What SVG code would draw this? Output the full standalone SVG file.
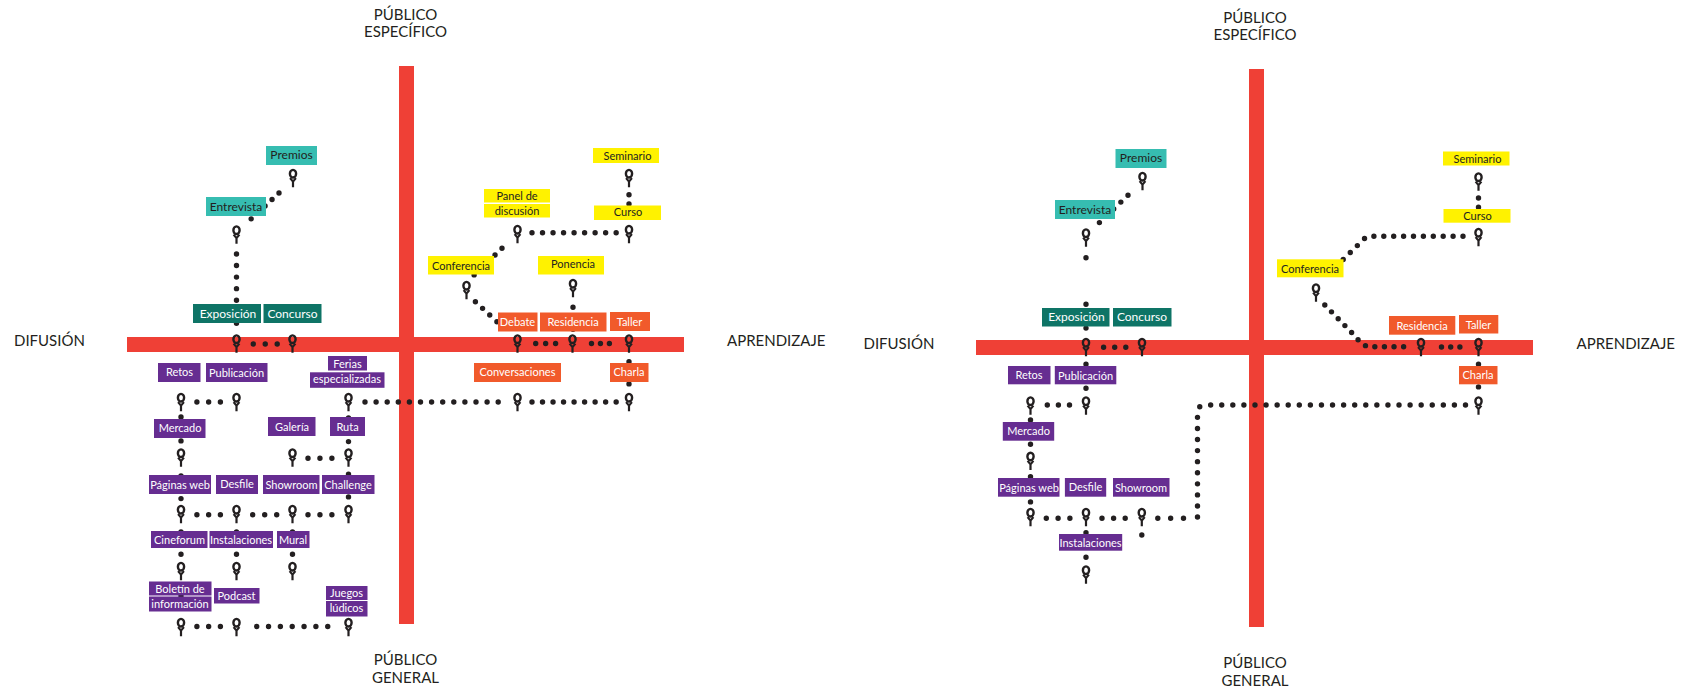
<svg xmlns="http://www.w3.org/2000/svg" xmlns:xlink="http://www.w3.org/1999/xlink" width="1682" height="686" viewBox="0 0 1682 686">
  <style>
    .bar { fill: #EF4036; }
    .axis { font-family: Lato, "Liberation Sans", sans-serif; font-size: 15px; fill: #231F20; }
    .mid { text-anchor: middle; }
    .node text { font-family: Lato, "Liberation Sans", sans-serif; font-size: 11px; text-anchor: middle; }
    .node.big text { font-size: 12px; }
    .pur rect { fill: #662D91; } .pur text { fill: #FFFFFF; }
    .dkt rect { fill: #0E7466; } .dkt text { fill: #FFFFFF; }
    .ltt rect { fill: #36BDB1; } .ltt text { fill: #231F20; }
    .yel rect { fill: #FFF200; } .yel text { fill: #231F20; }
    .org rect { fill: #F15A2B; } .org text { fill: #FFFFFF; }
    .dots path { fill: none; stroke: #231F20; stroke-width: 5.4; stroke-linecap: round; }
  </style>
  <defs>
    <!-- station pin: ring on top, forked stem below; origin = pin centre -->
    <g id="pin" fill="none" stroke="#231F20">
      <ellipse cx="0" cy="-4.3" rx="3.1" ry="3.8" stroke-width="2.4"/>
      <path d="M-2.9,0.1 L0,3.6 L2.9,0.1 M0,3.6 V9.3" stroke-width="2.2"/>
    </g>
  </defs>

  <!-- ===================== Map A ===================== -->
  <g id="map-a">
    <g id="a-axes">
      <rect class="bar" x="399" y="66" width="15" height="558"/>
      <rect class="bar" x="127" y="337" width="557" height="15"/>
      <text class="axis mid" x="405.5" y="19.5">PÚBLICO</text>
      <text class="axis mid" x="405.5" y="37">ESPECÍFICO</text>
      <text class="axis mid" x="405.5" y="665">PÚBLICO</text>
      <text class="axis mid" x="405.5" y="683">GENERAL</text>
      <text class="axis" x="14" y="345.5">DIFUSIÓN</text>
      <text class="axis" x="727" y="346">APRENDIZAJE</text>
    </g>

    <g id="a-connectors" class="dots">
      <path d="M279,193 L251,219" stroke-dasharray="0 9.5"/>
      <path d="M236.5,254 V323.6" stroke-dasharray="0 11.55"/>
      <path d="M253.3,344 H277.3" stroke-dasharray="0 11.95"/>
      <path d="M629,194.7 V213.3" stroke-dasharray="0 9.25"/>
      <path d="M532,232.7 H616.5" stroke-dasharray="0 10.52"/>
      <path d="M502,248.3 L474,275" stroke-dasharray="0 9.63"/>
      <path d="M475.4,301.7 L504.2,328.5" stroke-dasharray="0 9.79"/>
      <path d="M573,307.3 V329.3" stroke-dasharray="0 10.95"/>
      <path d="M535.7,343.5 H555.7" stroke-dasharray="0 9.95"/>
      <path d="M591.5,343.5 H609.5" stroke-dasharray="0 8.95"/>
      <path d="M629,361.7 V384" stroke-dasharray="0 11.1"/>
      <path d="M365,402 H498.7" stroke-dasharray="0 11.1"/>
      <path d="M532,402 H616.5" stroke-dasharray="0 10.52"/>
      <path d="M196.9,402 H220.5" stroke-dasharray="0 11.75"/>
      <path d="M181,417 V441" stroke-dasharray="0 11.95"/>
      <path d="M181,476 V498.7" stroke-dasharray="0 11.3"/>
      <path d="M308,458.3 H332" stroke-dasharray="0 11.95"/>
      <path d="M348.5,418 V441.7" stroke-dasharray="0 11.8"/>
      <path d="M348.5,474.3 V497" stroke-dasharray="0 11.3"/>
      <path d="M196.9,514.7 H220.5" stroke-dasharray="0 11.75"/>
      <path d="M252.7,514.7 H276.8" stroke-dasharray="0 12"/>
      <path d="M308,514.7 H332" stroke-dasharray="0 11.95"/>
      <path d="M181,532 V554.3" stroke-dasharray="0 11.1"/>
      <path d="M236.5,532 V554.3" stroke-dasharray="0 11.1"/>
      <path d="M292.5,532 V554.3" stroke-dasharray="0 11.1"/>
      <path d="M181,585 V607" stroke-dasharray="0 10.95"/>
      <path d="M196.9,626.5 H220.5" stroke-dasharray="0 11.75"/>
      <path d="M256.7,626.5 H328" stroke-dasharray="0 11.84"/>
    </g>

    <g id="a-nodes">
      <g id="a-premios" class="node big ltt"><rect x="266" y="146" width="51" height="19"/><text x="291.5" y="159">Premios</text><use xlink:href="#pin" x="293" y="178"/></g>
      <g id="a-entrevista" class="node big ltt"><rect x="206" y="197" width="60" height="19"/><text x="236" y="210.5">Entrevista</text><use xlink:href="#pin" x="236.5" y="234.5"/></g>
      <g id="a-exposicion" class="node big dkt"><rect x="193" y="304" width="68" height="19"/><text x="228" y="317.5">Exposición</text><use xlink:href="#pin" x="236.5" y="343.5"/></g>
      <g id="a-concurso" class="node big dkt"><rect x="263.5" y="304" width="58" height="19"/><text x="292.5" y="317.5">Concurso</text><use xlink:href="#pin" x="292.5" y="343.5"/></g>

      <g id="a-seminario" class="node yel"><rect x="593" y="148" width="66" height="15"/><text x="627.5" y="159.5">Seminario</text><use xlink:href="#pin" x="629" y="178"/></g>
      <g id="a-curso" class="node yel"><rect x="594" y="205.5" width="67" height="14.5"/><text x="628" y="216">Curso</text><use xlink:href="#pin" x="629" y="234"/></g>
      <g id="a-panel" class="node yel"><rect x="484" y="189" width="66" height="13.5"/><rect x="484" y="204" width="66" height="13.5"/><text x="517" y="200">Panel de</text><text x="517" y="214.5">discusión</text><use xlink:href="#pin" x="517.5" y="234"/></g>
      <g id="a-conferencia" class="node yel"><rect x="428" y="256" width="66" height="18.5"/><text x="461" y="269.5">Conferencia</text><use xlink:href="#pin" x="466.5" y="290"/></g>
      <g id="a-ponencia" class="node yel"><rect x="538" y="256" width="66" height="18.5"/><text x="573" y="268">Ponencia</text><use xlink:href="#pin" x="573" y="288"/></g>

      <g id="a-debate" class="node org"><rect x="498" y="312.5" width="39.5" height="19"/><text x="517.5" y="326">Debate</text><use xlink:href="#pin" x="517.5" y="343.5"/></g>
      <g id="a-residencia" class="node org"><rect x="540" y="312.5" width="66.5" height="19"/><text x="573" y="326">Residencia</text><use xlink:href="#pin" x="572.5" y="343.5"/></g>
      <g id="a-taller" class="node org"><rect x="610" y="312" width="40" height="19"/><text x="629.5" y="326">Taller</text><use xlink:href="#pin" x="629" y="343.5"/></g>
      <g id="a-charla" class="node org"><rect x="610" y="363" width="38.5" height="19"/><text x="629" y="376">Charla</text><use xlink:href="#pin" x="629" y="402"/></g>
      <g id="a-conversaciones" class="node org"><rect x="474" y="363" width="87" height="19"/><text x="517.5" y="376">Conversaciones</text><use xlink:href="#pin" x="517.5" y="402"/></g>

      <g id="a-ferias" class="node pur"><rect x="328" y="356" width="39" height="14.5"/><rect x="310" y="372.3" width="74.5" height="15.5"/><text x="347.5" y="368">Ferias</text><text x="347" y="383">especializadas</text><use xlink:href="#pin" x="348.5" y="402"/></g>
      <g id="a-retos" class="node pur"><rect x="158" y="363" width="42.5" height="19"/><text x="179.5" y="376">Retos</text><use xlink:href="#pin" x="181" y="402"/></g>
      <g id="a-publicacion" class="node pur"><rect x="206" y="363" width="61.5" height="19"/><text x="236.5" y="376.5">Publicación</text><use xlink:href="#pin" x="236.5" y="402"/></g>
      <g id="a-mercado" class="node pur"><rect x="154" y="419" width="51.5" height="19"/><text x="180" y="432">Mercado</text><use xlink:href="#pin" x="181" y="457.5"/></g>
      <g id="a-galeria" class="node pur"><rect x="268" y="417" width="47.5" height="19"/><text x="292" y="430.5">Galería</text><use xlink:href="#pin" x="292.5" y="457.5"/></g>
      <g id="a-ruta" class="node pur"><rect x="330" y="417" width="35" height="19"/><text x="347.5" y="430.5">Ruta</text><use xlink:href="#pin" x="348.5" y="457.5"/></g>
      <g id="a-paginas" class="node pur"><rect x="149" y="475" width="62" height="19"/><text x="180" y="488.5">Páginas web</text><use xlink:href="#pin" x="181" y="514"/></g>
      <g id="a-desfile" class="node pur"><rect x="216" y="475" width="42" height="19"/><text x="237" y="488">Desfile</text><use xlink:href="#pin" x="236.5" y="514"/></g>
      <g id="a-showroom" class="node pur"><rect x="263" y="475" width="56.5" height="19"/><text x="291.5" y="488.5">Showroom</text><use xlink:href="#pin" x="292.5" y="514"/></g>
      <g id="a-challenge" class="node pur"><rect x="322" y="475" width="52.5" height="19"/><text x="348" y="488.5">Challenge</text><use xlink:href="#pin" x="348.5" y="514"/></g>
      <g id="a-cineforum" class="node pur"><rect x="151" y="531" width="56.5" height="17"/><text x="179.5" y="543.5">Cineforum</text><use xlink:href="#pin" x="181" y="571"/></g>
      <g id="a-instalaciones" class="node pur"><rect x="209.5" y="531" width="63.5" height="17"/><text x="241" y="544">Instalaciones</text><use xlink:href="#pin" x="236.5" y="571"/></g>
      <g id="a-mural" class="node pur"><rect x="277" y="531" width="32.5" height="17"/><text x="293" y="544">Mural</text><use xlink:href="#pin" x="292.5" y="571"/></g>
      <g id="a-boletin" class="node pur"><rect x="149" y="581.5" width="62.5" height="14"/><rect x="149" y="596.5" width="62.5" height="15"/><text x="180" y="593">Boletín de</text><text x="180" y="607.5">información</text><use xlink:href="#pin" x="181" y="627"/></g>
      <g id="a-podcast" class="node pur"><rect x="214" y="588" width="45.5" height="15.5"/><text x="236.5" y="599.5">Podcast</text><use xlink:href="#pin" x="236.5" y="627"/></g>
      <g id="a-juegos" class="node pur"><rect x="326" y="586" width="41.5" height="14"/><rect x="326" y="601" width="41.5" height="15.5"/><text x="346.5" y="597">Juegos</text><text x="346.5" y="612">lúdicos</text><use xlink:href="#pin" x="348.5" y="627"/></g>
    </g>
  </g>

  <!-- ===================== Map B (same frame, shifted) ===================== -->
  <g id="map-b" transform="translate(849.5,3)">
    <g id="b-axes">
      <rect class="bar" x="399.5" y="66" width="15" height="558"/>
      <rect class="bar" x="126.5" y="337" width="557" height="15"/>
      <text class="axis mid" x="405.5" y="19.5">PÚBLICO</text>
      <text class="axis mid" x="405.5" y="37">ESPECÍFICO</text>
      <text class="axis mid" x="405.5" y="665">PÚBLICO</text>
      <text class="axis mid" x="405.5" y="682.5">GENERAL</text>
      <text class="axis" x="14" y="345.5">DIFUSIÓN</text>
      <text class="axis" x="727" y="345.5">APRENDIZAJE</text>
    </g>

    <g id="b-connectors" class="dots">
      <path d="M278.5,192.3 L249.8,219.7" stroke-dasharray="0 9.88"/>
      <path d="M236.5,254.7 V325.3" stroke-dasharray="0 46.5 0 23.9 0 100"/>
      <path d="M254.1,344.3 H276.4" stroke-dasharray="0 11.1"/>
      <path d="M629,195 V213.5" stroke-dasharray="0 9.2"/>
      <path d="M613.5,233.3 H522 Q516,233.3 511.5,239 L473.5,276.3" stroke-dasharray="0 9.9"/>
      <path d="M475.3,302 L506,333.5 Q511,340.5 518,343.7 H555" stroke-dasharray="0 9.6"/>
      <path d="M592,344 H610.5" stroke-dasharray="0 9.2"/>
      <path d="M629,361.3 V384" stroke-dasharray="0 11.3"/>
      <path d="M616,402 H356 Q348,402 348,410 V515.3" stroke-dasharray="0 11.08"/>
      <path d="M334,515.3 H308.2" stroke-dasharray="0 12.85"/>
      <path d="M236.5,361.3 V385.3" stroke-dasharray="0 11.95"/>
      <path d="M197.8,402 H220.1" stroke-dasharray="0 11.1"/>
      <path d="M181,417 V441.3" stroke-dasharray="0 12.1"/>
      <path d="M181,473.7 V499" stroke-dasharray="0 12.6"/>
      <path d="M196.8,515.3 H220.5" stroke-dasharray="0 11.8"/>
      <path d="M252.5,515.3 H275.8" stroke-dasharray="0 11.6"/>
      <path d="M292.3,532 h0.01"/>
      <path d="M236.5,529.7 V554.3" stroke-dasharray="0 12.25"/>
    </g>

    <g id="b-nodes">
      <g id="b-premios" class="node big ltt"><rect x="266" y="146" width="51" height="19"/><text x="291.5" y="159">Premios</text><use xlink:href="#pin" x="293" y="178"/></g>
      <g id="b-entrevista" class="node big ltt"><rect x="205.5" y="197" width="60" height="19"/><text x="235.5" y="210.5">Entrevista</text><use xlink:href="#pin" x="236.5" y="234.5"/></g>
      <g id="b-exposicion" class="node big dkt"><rect x="192.5" y="305" width="67.5" height="18.5"/><text x="227" y="318">Exposición</text><use xlink:href="#pin" x="236.5" y="344"/></g>
      <g id="b-concurso" class="node big dkt"><rect x="263.5" y="305" width="58.5" height="18.5"/><text x="292.5" y="318">Concurso</text><use xlink:href="#pin" x="292.5" y="344"/></g>

      <g id="b-seminario" class="node yel"><rect x="593.5" y="148.5" width="66.5" height="14"/><text x="628" y="159.5">Seminario</text><use xlink:href="#pin" x="629" y="178.5"/></g>
      <g id="b-curso" class="node yel"><rect x="594" y="206" width="67" height="13.7"/><text x="628" y="216.5">Curso</text><use xlink:href="#pin" x="629" y="234"/></g>
      <g id="b-conferencia" class="node yel"><rect x="427.5" y="256.3" width="66.5" height="18"/><text x="460.5" y="269.5">Conferencia</text><use xlink:href="#pin" x="466.5" y="289.5"/></g>

      <g id="b-residencia" class="node org"><rect x="539.5" y="313" width="66.3" height="18.7"/><text x="572.5" y="326.5">Residencia</text><use xlink:href="#pin" x="571.5" y="344"/></g>
      <g id="b-taller" class="node org"><rect x="609.5" y="312" width="39.3" height="18.5"/><text x="629" y="325.5">Taller</text><use xlink:href="#pin" x="629" y="344"/></g>
      <g id="b-charla" class="node org"><rect x="609.5" y="363" width="38.5" height="18.3"/><text x="628.5" y="376">Charla</text><use xlink:href="#pin" x="629" y="402.5"/></g>

      <g id="b-retos" class="node pur"><rect x="158.5" y="363" width="42.5" height="18.3"/><text x="179.5" y="376">Retos</text><use xlink:href="#pin" x="181" y="402.5"/></g>
      <g id="b-publicacion" class="node pur"><rect x="205.3" y="363" width="61.5" height="18.3"/><text x="236" y="376.5">Publicación</text><use xlink:href="#pin" x="236.5" y="402.5"/></g>
      <g id="b-mercado" class="node pur"><rect x="153.3" y="419" width="51.4" height="18.7"/><text x="179" y="432">Mercado</text><use xlink:href="#pin" x="181" y="457.8"/></g>
      <g id="b-paginas" class="node pur"><rect x="148.5" y="475" width="61.5" height="18.7"/><text x="179.5" y="488.5">Páginas web</text><use xlink:href="#pin" x="181" y="514"/></g>
      <g id="b-desfile" class="node pur"><rect x="215.4" y="475" width="41.3" height="18.7"/><text x="236" y="488">Desfile</text><use xlink:href="#pin" x="236.5" y="514"/></g>
      <g id="b-showroom" class="node pur"><rect x="263.5" y="475" width="56.5" height="18.7"/><text x="291.5" y="488.5">Showroom</text><use xlink:href="#pin" x="292.3" y="514"/></g>
      <g id="b-instalaciones" class="node pur"><rect x="209.5" y="531" width="63.2" height="16.7"/><text x="241" y="544">Instalaciones</text><use xlink:href="#pin" x="236.5" y="571.5"/></g>
    </g>
  </g>
</svg>
